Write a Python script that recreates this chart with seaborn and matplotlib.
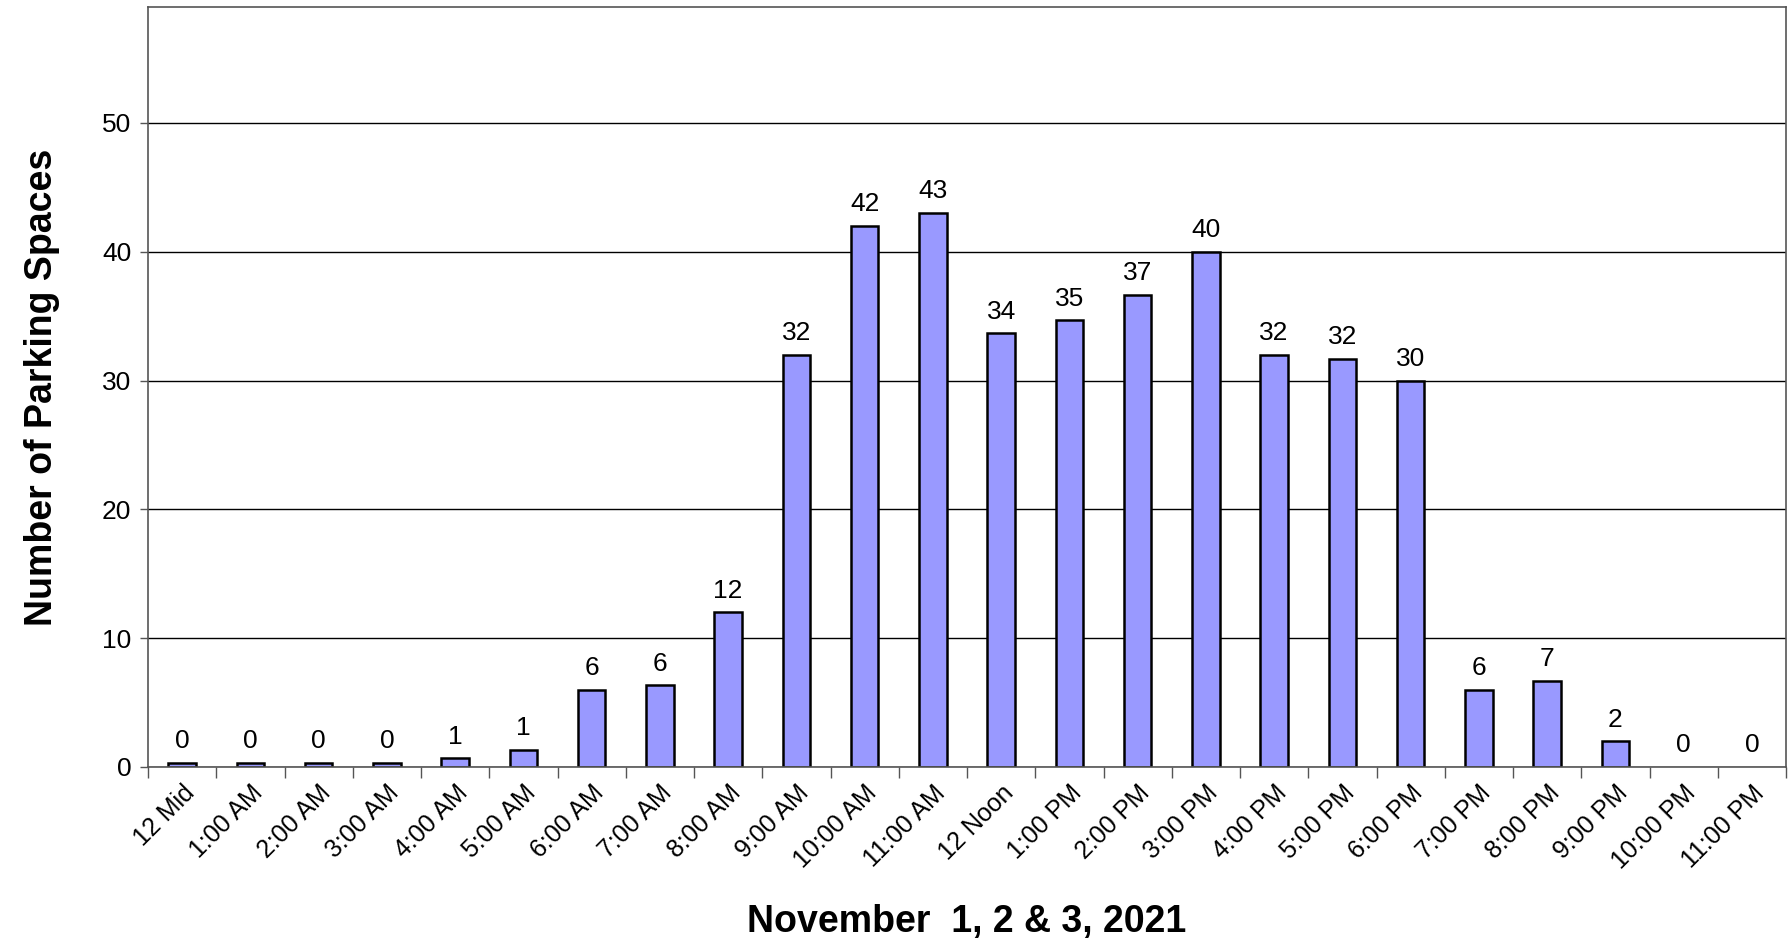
import matplotlib
matplotlib.use('Agg')
import matplotlib.pyplot as plt
import seaborn as sns
import pandas as pd

# hours of the day
hours = ['12 Mid', '1:00 AM', '2:00 AM', '3:00 AM', '4:00 AM', '5:00 AM',
         '6:00 AM', '7:00 AM', '8:00 AM', '9:00 AM', '10:00 AM', '11:00 AM',
         '12 Noon', '1:00 PM', '2:00 PM', '3:00 PM', '4:00 PM', '5:00 PM',
         '6:00 PM', '7:00 PM', '8:00 PM', '9:00 PM', '10:00 PM', '11:00 PM']
# average occupied spaces (3 days)
spaces = [0.33, 0.33, 0.33, 0.33, 0.67, 1.33,
          6.0, 6.33, 12.0, 32.0, 42.0, 43.0,
          33.67, 34.67, 36.67, 40.0, 32.0, 31.67,
          30.0, 6.0, 6.67, 2.0, 0.0, 0.0]

df = pd.DataFrame({'hour': hours, 'spaces': spaces})

sns.set_theme(style='white')
plt.rcParams['font.family'] = ['Liberation Sans', 'DejaVu Sans']
plt.rcParams['text.color'] = 'black'
plt.rcParams['axes.labelcolor'] = 'black'
plt.rcParams['xtick.color'] = 'black'
plt.rcParams['ytick.color'] = 'black'

fig = plt.figure(figsize=(17.88, 9.48), dpi=100)
ax = fig.add_axes([148/1788, 1 - 767/948, (1786-148)/1788, (767-7)/948])

sns.barplot(data=df, x='hour', y='spaces', color='#9999FF', edgecolor='black',
            linewidth=1.8, width=0.4, saturation=1, ax=ax)
# no outline for empty hours
for p in ax.patches:
    if p.get_height() == 0:
        p.set_linewidth(0)

ax.set_ylim(0, 59)
ax.set_xlim(-0.5, len(hours) - 0.5)
ax.set_yticks([0, 10, 20, 30, 40, 50])
ax.yaxis.grid(True, color='black', linewidth=1)
ax.set_axisbelow(True)

for i, v in enumerate(spaces):
    ax.annotate('%d' % round(v), (i, v), xytext=(0, 7), textcoords='offset points',
                ha='center', va='bottom', fontsize=19)

ax.tick_params(axis='y', labelsize=19, length=6, width=1, color='#555555', direction='out', left=True, pad=6)
ax.set_xticks([i - 0.5 for i in range(len(hours) + 1)], minor=True)
ax.tick_params(axis='x', which='minor', length=8, width=1, color='#555555', direction='out', bottom=True)
ax.tick_params(axis='x', which='major', length=0, labelsize=18, pad=10)
ax.set_xticks(range(len(hours)))
ax.set_xticklabels(hours, rotation=45, ha='right', rotation_mode='anchor')

for s in ax.spines.values():
    s.set_color('#555555')
    s.set_linewidth(1.2)

ax.set_xlabel('November  1, 2 & 3, 2021', fontsize=27, fontweight='bold', labelpad=22)
ax.set_ylabel('Number of Parking Spaces', fontsize=27, fontweight='bold', labelpad=30)

plt.savefig('out.png', dpi=100)
